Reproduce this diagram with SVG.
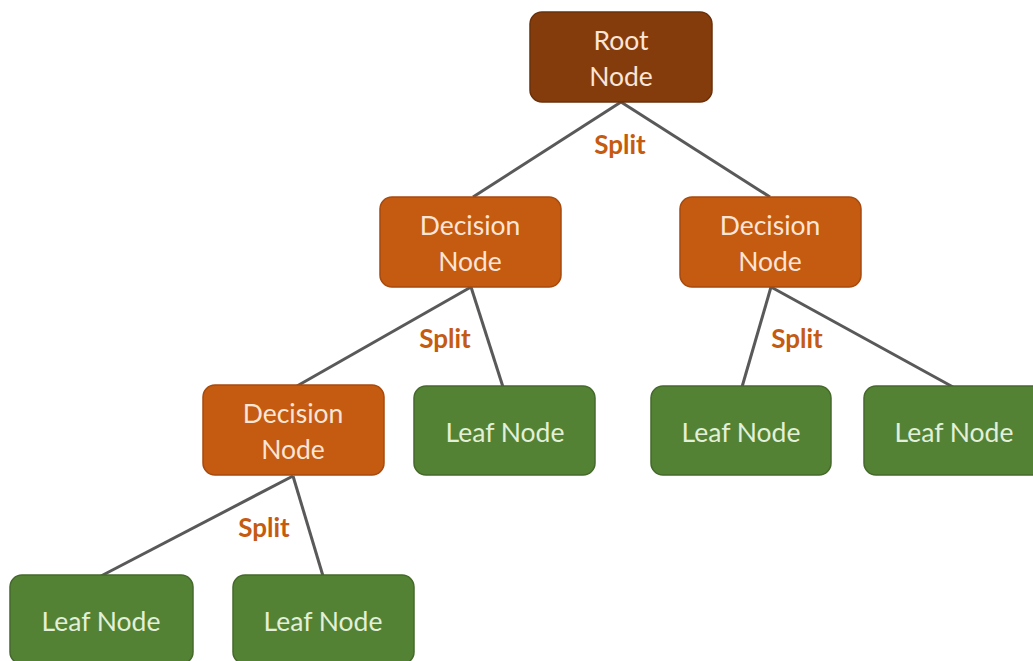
<svg xmlns="http://www.w3.org/2000/svg" width="1033" height="661" viewBox="0 0 1033 661">
<style>
.box{stroke-width:1.5}
.root{fill:#843c0c;stroke:#6b300a}
.dec{fill:#c55a11;stroke:#a64a0e}
.leaf{fill:#548235;stroke:#44692b}
.t{font-family:Lato,"Open Sans",sans-serif;font-size:26.5px;text-anchor:middle}
.tr{fill:#fbe5d6}
.tl{fill:#e2f0d9}
.split{font-family:Lato,"Open Sans",sans-serif;font-size:26px;font-weight:bold;fill:#c55a11;text-anchor:middle}
.edge{stroke:#595959;stroke-width:3;fill:none}
</style>
<rect width="1033" height="661" fill="#ffffff"/>
<g id="connectors">
<line class="edge" x1="621" y1="102" x2="473" y2="197"/>
<line class="edge" x1="621" y1="102" x2="770" y2="197"/>
<line class="edge" x1="471" y1="287" x2="297" y2="386"/>
<line class="edge" x1="471" y1="287" x2="503" y2="387"/>
<line class="edge" x1="771" y1="287" x2="742" y2="387"/>
<line class="edge" x1="771" y1="287" x2="953" y2="387"/>
<line class="edge" x1="293" y1="476" x2="101" y2="576"/>
<line class="edge" x1="293" y1="476" x2="323" y2="576"/>
<text class="split" x="620" y="154">Split</text>
<text class="split" x="445" y="348">Split</text>
<text class="split" x="797" y="348">Split</text>
<text class="split" x="264" y="537">Split</text>
</g>
<g id="root">
<rect class="box root" x="530" y="12" width="182" height="90" rx="12"/>
<text class="t tr" x="621" y="50">Root</text>
<text class="t tr" x="621" y="86">Node</text>
</g>
<g id="decision1">
<rect class="box dec" x="380" y="197" width="181" height="90" rx="12"/>
<text class="t tr" x="470" y="235">Decision</text>
<text class="t tr" x="470" y="271">Node</text>
</g>
<g id="decision2">
<rect class="box dec" x="680" y="197" width="181" height="90" rx="12"/>
<text class="t tr" x="770" y="235">Decision</text>
<text class="t tr" x="770" y="271">Node</text>
</g>
<g id="decision3">
<rect class="box dec" x="203" y="385" width="181" height="90" rx="12"/>
<text class="t tr" x="293" y="423">Decision</text>
<text class="t tr" x="293" y="459">Node</text>
</g>
<g id="leaf1">
<rect class="box leaf" x="414" y="386" width="181" height="89" rx="12"/>
<text class="t tl" x="505" y="442">Leaf Node</text>
</g>
<g id="leaf2">
<rect class="box leaf" x="651" y="386" width="180" height="89" rx="12"/>
<text class="t tl" x="741" y="442">Leaf Node</text>
</g>
<g id="leaf3">
<rect class="box leaf" x="864" y="386" width="181" height="89" rx="12"/>
<text class="t tl" x="954" y="442">Leaf Node</text>
</g>
<g id="leaf4">
<rect class="box leaf" x="10" y="575" width="183" height="89" rx="12"/>
<text class="t tl" x="101" y="631">Leaf Node</text>
</g>
<g id="leaf5">
<rect class="box leaf" x="233" y="575" width="181" height="89" rx="12"/>
<text class="t tl" x="323" y="631">Leaf Node</text>
</g>
</svg>
